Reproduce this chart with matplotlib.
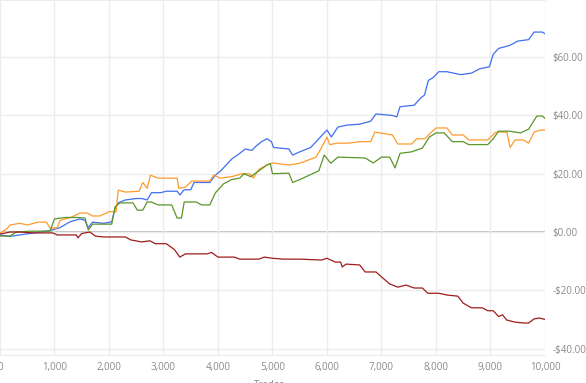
import matplotlib.pyplot as plt
from matplotlib.ticker import FuncFormatter, MultipleLocator

# trade number / cumulative P&L
blue_x = [0, 183, 367, 550, 734, 917, 1101, 1284, 1468, 1560, 1615, 1700, 1900, 2050, 2110, 2170,
          2300, 2500, 2600, 2700, 2780, 2950, 3050, 3250, 3300, 3380, 3500, 3560, 3850, 3950, 4050,
          4150, 4250, 4400, 4500, 4620, 4700, 4800, 4900, 4980, 5020, 5300, 5370, 5500, 5700, 5830,
          6000, 6080, 6200, 6370, 6600, 6800, 6900, 7200, 7280, 7340, 7600, 7720, 7790, 7860, 7950,
          8050, 8200, 8450, 8650, 8800, 8980, 9050, 9150, 9350, 9500, 9700, 9800, 9950, 10000]
blue_y = [-1, -1.5, -1, -0.5, 0, 0.5, 1.5, 3.5, 4.5, 4, 1.5, 3.4, 3, 3.5, 8, 10,
          11, 11.5, 11.5, 11, 13.5, 13.5, 14, 14, 12.7, 14.5, 14.5, 17, 17, 19.5, 21,
          23, 25, 27, 28.5, 28, 29.5, 31, 32, 31, 29, 28.5, 26.4, 27.5, 29, 31.6,
          35, 32.6, 36, 36.7, 37, 38, 40.5, 40, 39.5, 43, 43.5, 46, 47, 52, 53,
          55, 55, 54, 54.5, 56, 56.7, 61, 63, 64, 65.5, 66, 68.6, 68.6, 68]

orange_x = [0, 120, 183, 367, 500, 700, 850, 917, 1050, 1101, 1300, 1468, 1600, 1700, 1835, 2000,
            2130, 2170, 2300, 2550, 2620, 2700, 2760, 2900, 3250, 3280, 3400, 3520, 3850, 3920, 4050,
            4250, 4450, 4580, 4650, 4750, 4900, 5000, 5300, 5500, 5800, 5900, 6000, 6050, 6200, 6400,
            6600, 6800, 6880, 7200, 7300, 7550, 7650, 7800, 7900, 8000, 8200, 8300, 8500, 8600, 8950,
            9100, 9300, 9360, 9450, 9600, 9700, 9800, 9920, 10000]
orange_y = [-0.3, 1, 2.4, 3, 2.4, 3.4, 3.4, 1.4, 1.4, 4, 5, 6.5, 6.5, 5.5, 5.5, 7,
            7, 14.4, 13.7, 14, 17, 15, 19.5, 18.5, 18.5, 15, 15.4, 17.5, 17.5, 19.5, 18.5,
            19, 20, 20, 18.5, 21.5, 23, 23.7, 23, 23.6, 25.7, 29, 32.6, 30, 30.5, 30.5,
            31, 31, 34.3, 33.3, 30.2, 30.2, 32, 32, 34, 35.7, 35.7, 33.3, 33.3, 31.6, 31.6,
            34.3, 34.3, 29, 31.6, 31.6, 30.5, 34.3, 35, 35]

green_x = [0, 183, 300, 550, 917, 1000, 1200, 1400, 1560, 1620, 1700, 2050, 2110, 2200, 2440, 2520,
           2620, 2700, 2780, 2900, 3150, 3250, 3330, 3380, 3600, 3700, 3850, 3950, 4100, 4250, 4400,
           4480, 4600, 4750, 4900, 4960, 5000, 5300, 5370, 5500, 5850, 5950, 6070, 6200, 6700, 6850,
           7000, 7150, 7250, 7340, 7550, 7750, 7880, 8000, 8150, 8300, 8500, 8600, 8950, 9050, 9150,
           9350, 9550, 9700, 9850, 9950, 10000]
green_y = [-1.4, -1.4, 0, 0.3, 0.3, 4.5, 5, 5, 4.8, 0.7, 2.7, 2.7, 8.6, 10, 10, 7.5,
           7.5, 10.3, 10.3, 9.3, 9.3, 4.8, 4.8, 10.3, 10.3, 9.3, 9.3, 13.4, 16.5, 18, 18.5,
           20, 19, 21, 23, 23.5, 20, 20.2, 17, 18, 21, 26.4, 23.6, 25.7, 25.4, 23.7,
           25.7, 25.7, 22, 27, 27.5, 28.8, 32.6, 34, 34, 31, 31, 30, 30, 32, 34.6,
           34.6, 34, 35.3, 39.8, 39.8, 39]

red_x = [0, 183, 367, 600, 970, 1050, 1400, 1430, 1500, 1650, 1750, 1900, 2300, 2400, 2600, 2750,
         2850, 3050, 3200, 3300, 3400, 3800, 3880, 4000, 4300, 4400, 4750, 4850, 5000, 5200, 5500,
         5900, 6000, 6150, 6250, 6280, 6350, 6600, 6700, 6900, 7000, 7150, 7300, 7450, 7600, 7750,
         7850, 8050, 8200, 8400, 8500, 8650, 8850, 8950, 9050, 9150, 9220, 9300, 9450, 9600, 9700,
         9800, 9900, 10000]
red_y = [-0.7, 0, 0, -0.3, -0.3, -1, -1, -2, -0.5, 0, -1.4, -1.7, -1.7, -2.7, -3.4, -3,
         -4, -4, -6, -8.6, -7.5, -7.5, -7, -8.6, -8.6, -9.3, -9.3, -8.6, -9, -9.3, -9.3,
         -9.6, -9, -10.3, -10.3, -12, -11, -11.3, -13.7, -13.7, -15.4, -17.8, -18.9, -18.2, -19.2, -19.2,
         -21, -21, -21.6, -22, -24.4, -26, -26, -27, -27, -29, -28.4, -30.2, -30.9, -31.2, -31.2,
         -29.8, -29.5, -30]

plt.rcParams['font.family'] = ['Open Sans', 'DejaVu Sans']

fig = plt.figure(figsize=(5.86, 3.83), dpi=100)
ax = fig.add_axes([0, 0.073, 0.93, 0.927])

grid_col = '#ececec'
ax.axhline(0, color='#b4b4b4', lw=1.2, zorder=1)
ax.plot(blue_x, blue_y, color='#3f6ff0', lw=0.9, zorder=3)
ax.plot(orange_x, orange_y, color='#ff9a2e', lw=0.9, zorder=3)
ax.plot(green_x, green_y, color='#5b962a', lw=0.9, zorder=3)
ax.plot(red_x, red_y, color='#9e1c1c', lw=0.9, zorder=3)

ax.set_xlim(0, 10000)
ax.set_ylim(-42.2, 79.6)
ax.xaxis.set_major_locator(MultipleLocator(1000))
ax.yaxis.set_major_locator(MultipleLocator(20))
ax.xaxis.set_major_formatter(FuncFormatter(lambda v, p: f'{int(v):,}'))


def money(v, p):
    if v > 60 + 1e-6:
        return ''
    s = f'${abs(v):.2f}'
    return '-' + s if v < 0 else s


ax.yaxis.set_major_formatter(FuncFormatter(money))
ax.yaxis.tick_right()
ax.grid(True, color=grid_col, lw=1, zorder=0)
ax.tick_params(length=0, colors='#8a8a8a', labelsize=7)
ax.tick_params(axis='y', pad=5.5)
ax.tick_params(axis='x', pad=5)
for s in ['left', 'right']:
    ax.spines[s].set_visible(False)
ax.spines['top'].set_color(grid_col)
ax.spines['bottom'].set_color(grid_col)

fig.text(0.46, 0.008, 'Trades', color='#8a8a8a', fontsize=7, ha='center', va='top')

fig.savefig('out.png', dpi=100)
